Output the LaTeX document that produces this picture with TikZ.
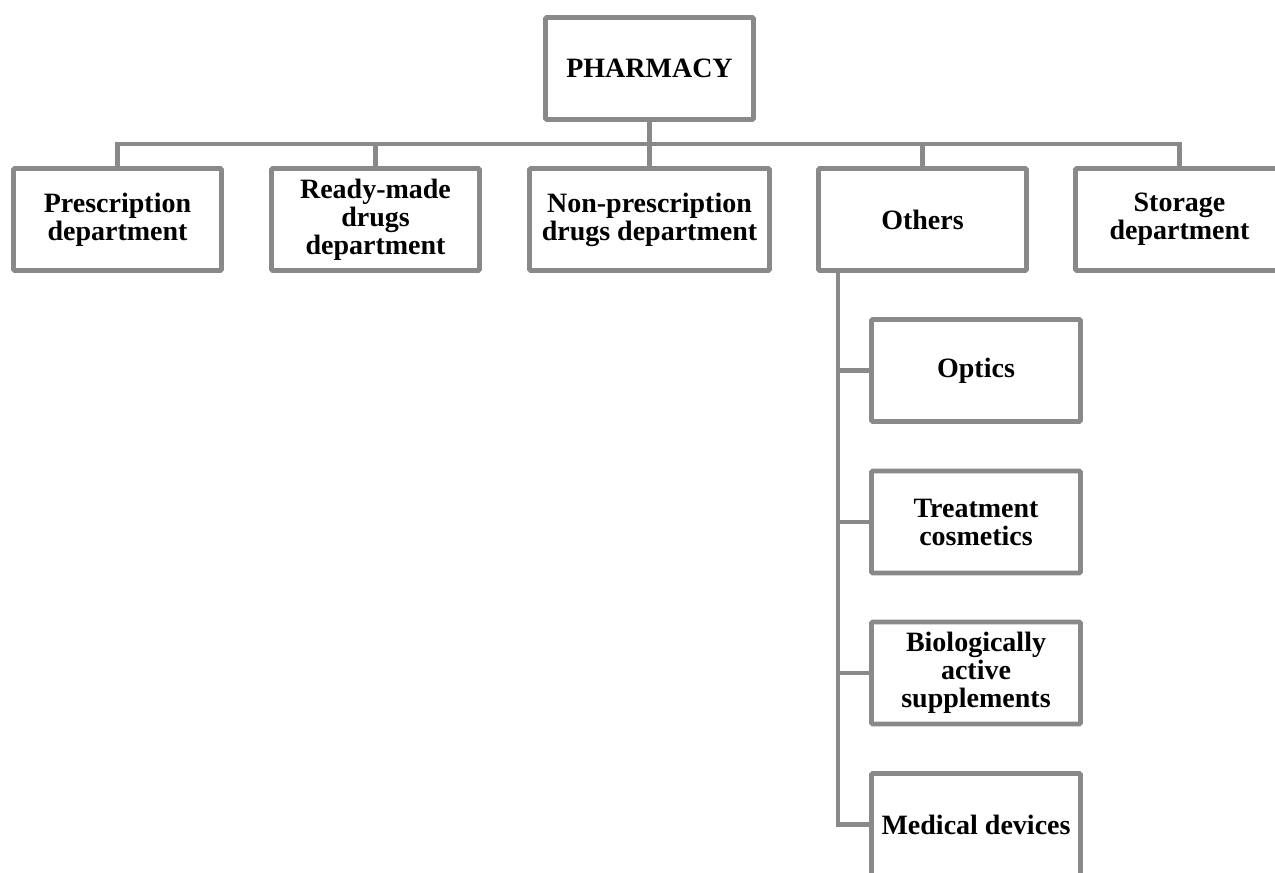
\documentclass[tikz,border=0pt]{standalone}
\usepackage{fontspec}
\setmainfont{Liberation Serif}
\definecolor{linegray}{RGB}{137,137,137}
\tikzset{
  box/.style={draw=linegray, line width=3.6pt, rounded corners=1pt, fill=white,
    minimum width=208*0.75pt, minimum height=102*0.75pt, align=center, inner sep=2pt,
    font=\fontsize{21}{21}\selectfont\bfseries, text=black},
  conn/.style={draw=linegray, line width=3.4pt}
}
\begin{document}
\begin{tikzpicture}[x=0.75pt,y=-0.75pt]
\useasboundingbox (0,0) rectangle (1275,872);
\clip (0,0) rectangle (1275,872);
\coordinate (busy) at (649.5,144);
\node[box] (pharm) at (649.5,68.5) {PHARMACY};
\node[box] (presc) at (117.5,219.5) {Prescription\\department};
\node[box] (ready) at (375.5,219.5) {Ready-made\\drugs\\department};
\node[box, minimum width=240*0.75pt] (nonpres) at (649.5,219.5) {Non-prescription\\drugs department};
\node[box] (others) at (922.5,219.5) {Others};
\node[box] (storage) at (1179.5,219.5) {Storage\\department};
\node[box, minimum width=209*0.75pt] (optics) at (976,370.5) {Optics};
\node[box, minimum width=209*0.75pt] (treat) at (976,522) {Treatment\\cosmetics};
\node[box, minimum width=209*0.75pt] (bio) at (976,673) {Biologically\\active\\supplements};
\node[box, minimum width=209*0.75pt] (med) at (976,824.5) {Medical devices};
\coordinate (trunk) at (838,273);
\draw[conn] (pharm.south) -- (busy);
\draw[conn] (presc.north) |- (busy) -| (storage.north);
\draw[conn] (ready.north) -- (ready.north |- busy);
\draw[conn] (nonpres.north) -- (busy);
\draw[conn] (others.north) -- (others.north |- busy);
\draw[conn] (trunk |- others.south) -- (trunk |- med.west) -- (med.west);
\draw[conn] (trunk |- optics.west) -- (optics.west);
\draw[conn] (trunk |- treat.west) -- (treat.west);
\draw[conn] (trunk |- bio.west) -- (bio.west);
\end{tikzpicture}
\end{document}
